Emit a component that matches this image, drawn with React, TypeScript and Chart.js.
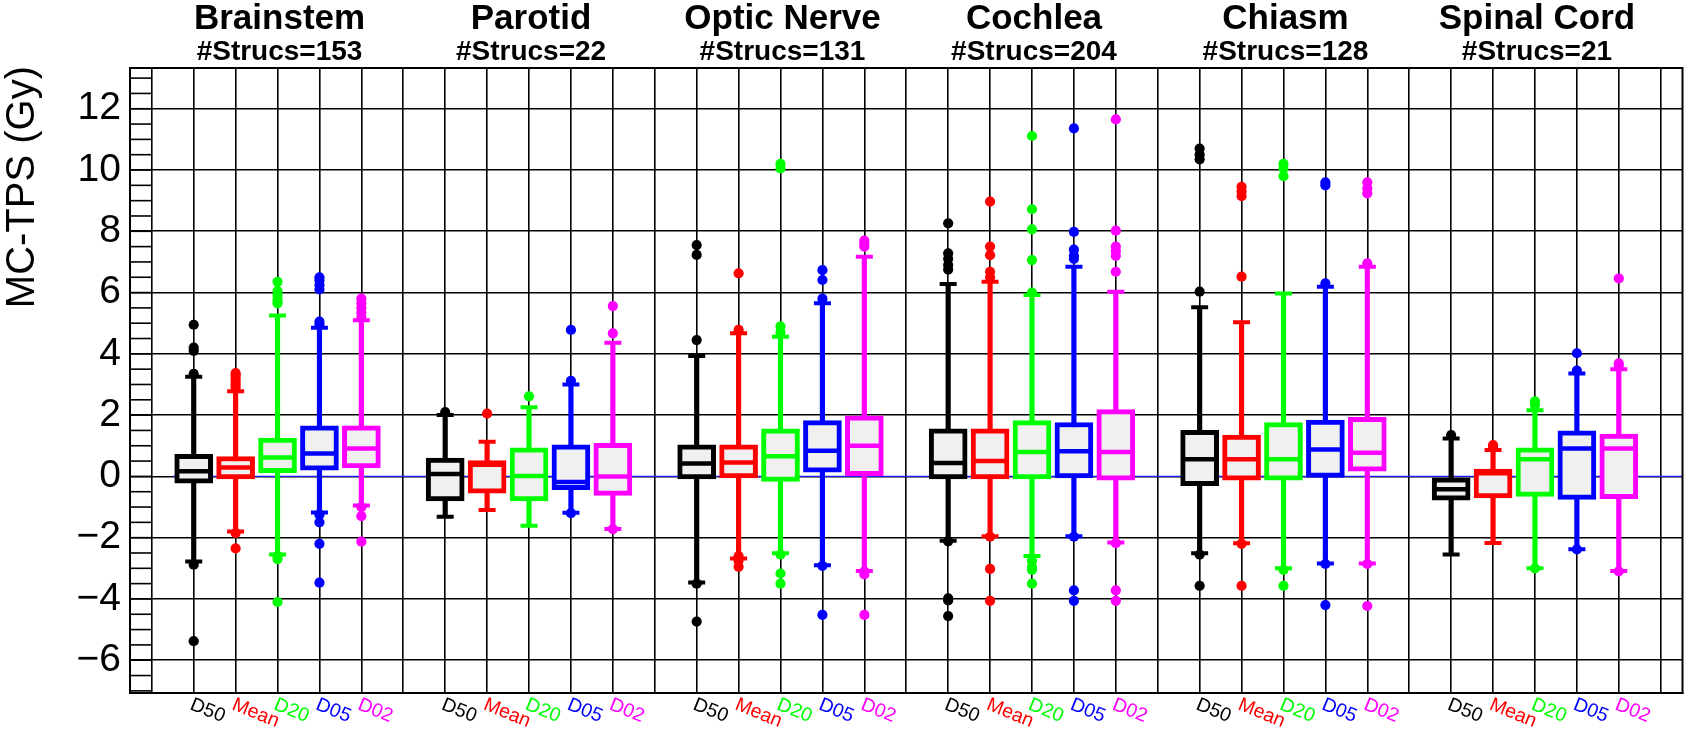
import React, { useEffect, useRef } from 'react';
import { Chart, registerables } from 'chart.js';

Chart.register(...registerables);

const STRUCTURES = ['Brainstem', 'Parotid', 'Optic Nerve', 'Cochlea', 'Chiasm', 'Spinal Cord'];
const N_STRUCS = [153, 22, 131, 204, 128, 21];
const METRICS = ['D50', 'Mean', 'D20', 'D05', 'D02'];
const METRIC_COLORS = ['#000000', '#ff0000', '#00ff00', '#0000ff', '#ff00ff'];
const Y_TICKS = [-6, -4, -2, 0, 2, 4, 6, 8, 10, 12];
const Y_MIN = -7.07;
const Y_MAX = 13.33;

// values indexed [structure][metric]
const Q1 = [
  [-0.22, -0.08, 0.12, 0.2, 0.28],
  [-0.8, -0.55, -0.8, -0.43, -0.62],
  [-0.08, -0.05, -0.16, 0.14, 0.02],
  [-0.08, -0.08, -0.08, -0.05, -0.12],
  [-0.3, -0.12, -0.12, -0.03, 0.17],
  [-0.78, -0.7, -0.65, -0.75, -0.73],
];
const MEDIAN = [
  [0.17, 0.29, 0.62, 0.75, 0.91],
  [0.08, 0.38, 0.01, -0.18, 0.0],
  [0.42, 0.45, 0.66, 0.84, 1.0],
  [0.44, 0.5, 0.8, 0.82, 0.8],
  [0.56, 0.56, 0.56, 0.88, 0.77],
  [-0.42, 0.1, 0.56, 0.91, 0.91],
];
const Q3 = [
  [0.72, 0.65, 1.25, 1.65, 1.65],
  [0.6, 0.52, 0.93, 1.03, 1.08],
  [1.03, 1.03, 1.55, 1.82, 1.98],
  [1.55, 1.55, 1.82, 1.76, 2.18],
  [1.5, 1.35, 1.76, 1.84, 1.93],
  [-0.05, 0.24, 0.93, 1.49, 1.38],
];
const WHISKER_LO = [
  [-2.78, -1.8, -2.55, -1.18, -0.95],
  [-1.32, -1.1, -1.61, -1.19, -1.72],
  [-3.46, -2.68, -2.51, -2.9, -3.09],
  [-2.1, -1.95, -2.6, -1.95, -2.16],
  [-2.51, -2.18, -3.0, -2.84, -2.84],
  [-2.55, -2.17, -3.0, -2.38, -3.09],
];
const WHISKER_HI = [
  [3.25, 2.78, 5.25, 4.85, 5.1],
  [2.0, 1.13, 2.26, 3.0, 4.36],
  [3.93, 4.67, 4.56, 5.65, 7.17],
  [6.28, 6.35, 5.92, 6.84, 6.03],
  [5.52, 5.03, 5.97, 6.19, 6.84],
  [1.24, 0.86, 2.16, 3.36, 3.5],
];
const OUTLIERS = [
  [
    [3.35, 4.1, 4.2, 4.95, -2.88, -5.38],
    [2.9, 3.0, 3.1, 3.2, 3.3, 3.37, -1.85, -2.35],
    [5.65, 5.75, 5.9, 6.05, 6.35, -2.6, -2.7, -4.1],
    [4.95, 5.05, 6.1, 6.25, 6.4, 6.5, -1.25, -1.5, -2.2, -3.47],
    [5.2, 5.35, 5.5, 5.65, 5.8, -1.0, -1.3, -2.13],
  ],
  [
    [2.1],
    [2.05],
    [2.61],
    [3.12, 4.78, -1.2],
    [4.67, 5.56, -1.72],
  ],
  [
    [4.45, 7.23, 7.55, -3.5, -4.74],
    [4.78, 6.63, -2.6, -2.75, -2.95],
    [4.7, 4.9, 10.05, 10.2, -2.55, -3.17, -3.5],
    [5.8, 6.41, 6.73, -2.92, -4.52],
    [7.5, 7.6, 7.7, -3.1, -3.2, -4.52],
  ],
  [
    [6.75, 6.9, 7.1, 7.28, 8.26, -2.12, -3.98, -4.05, -4.56],
    [6.5, 6.68, 7.22, 7.5, 8.97, -1.97, -3.02, -4.06],
    [6.0, 7.06, 8.06, 8.72, 11.11, -2.75, -2.95, -3.05, -3.5],
    [7.1, 7.2, 7.4, 7.98, 11.36, -1.97, -3.72, -4.06],
    [6.68, 7.2, 7.35, 7.5, 8.02, 11.65, -2.18, -3.72, -4.06],
  ],
  [
    [6.03, 10.35, 10.5, 10.7, -2.55, -3.57],
    [6.52, 9.15, 9.3, 9.45, -2.2, -3.57],
    [9.8, 10.05, 10.2, -3.05, -3.57],
    [6.3, 9.5, 9.6, -2.86, -4.2],
    [6.95, 9.24, 9.4, 9.6, -2.86, -4.23],
  ],
  [
    [1.35],
    [0.95, 1.02],
    [2.33, 2.45, -3.0],
    [3.45, 4.02, -2.38],
    [3.6, 3.69, 6.46, -3.1],
  ],
];

const SLOTS_PER_GROUP = METRICS.length + 1;
const N_SLOTS = STRUCTURES.length * SLOTS_PER_GROUP + 1;
const slot = (s: number, m: number) => s * SLOTS_PER_GROUP + 1 + m;

const FONT = '"Liberation Sans", Arial, Helvetica, sans-serif';

const decorPlugin = {
  id: 'decor',
  beforeDatasetsDraw(chart: any) {
    const { ctx, chartArea: a, scales } = chart;
    const x = scales.x;
    const y = scales.y;
    ctx.save();
    ctx.strokeStyle = '#000';
    ctx.lineWidth = 1.6;
    const x0 = x.getPixelForValue(0);
    for (let v = Math.ceil(Y_MIN * 2) / 2; v <= Y_MAX + 1e-9; v += 0.5) {
      const py = y.getPixelForValue(v);
      ctx.beginPath();
      ctx.moveTo(a.left, py);
      ctx.lineTo(x0, py);
      ctx.stroke();
    }
    ctx.strokeStyle = '#1a1aff';
    ctx.lineWidth = 1.4;
    const pz = y.getPixelForValue(0);
    ctx.beginPath();
    ctx.moveTo(x.getPixelForValue(0.5), pz);
    ctx.lineTo(a.right, pz);
    ctx.stroke();
    ctx.restore();
  },
  afterDatasetsDraw(chart: any) {
    const { ctx, chartArea: a } = chart;
    ctx.save();
    ctx.strokeStyle = '#000';
    ctx.lineWidth = 2;
    ctx.strokeRect(a.left, a.top, a.right - a.left, a.bottom - a.top);
    ctx.restore();
  },
  afterDraw(chart: any) {
    const { ctx, scales } = chart;
    const x = scales.x;
    ctx.save();
    ctx.fillStyle = '#000';
    STRUCTURES.forEach((name, s) => {
      const cx = x.getPixelForValue(slot(s, 2)) + 2;
      ctx.textAlign = 'center';
      ctx.textBaseline = 'alphabetic';
      ctx.font = `bold 35px ${FONT}`;
      ctx.fillText(name, cx, 29);
      ctx.font = `bold 28px ${FONT}`;
      ctx.fillText(`#Strucs=${N_STRUCS[s]}`, cx, 60);
    });
    ctx.font = `19.5px ${FONT}`;
    STRUCTURES.forEach((_, s) => {
      METRICS.forEach((label, m) => {
        const px = x.getPixelForValue(slot(s, m));
        ctx.save();
        ctx.translate(px + 1, 695);
        ctx.rotate((22 * Math.PI) / 180);
        ctx.textAlign = 'left';
        ctx.textBaseline = 'top';
        ctx.fillStyle = METRIC_COLORS[m];
        ctx.fillText(label, 0, 0);
        ctx.restore();
      });
    });
    ctx.save();
    ctx.translate(34, 66);
    ctx.rotate(-Math.PI / 2);
    ctx.textAlign = 'right';
    ctx.textBaseline = 'alphabetic';
    ctx.font = `40px ${FONT}`;
    ctx.fillStyle = '#000';
    ctx.fillText('MC-TPS (Gy)', 0, 0);
    ctx.restore();
    ctx.restore();
  },
};

export default function App() {
  const canvasRef = useRef<HTMLCanvasElement | null>(null);

  useEffect(() => {
    document.body.style.margin = '0';
    const canvas = canvasRef.current;
    if (!canvas) return;

    const datasets: any[] = [];
    METRICS.forEach((label, m) => {
      const color = METRIC_COLORS[m];
      datasets.push({
        type: 'bar',
        label: label + ' whisker',
        data: STRUCTURES.map((_, s) => ({ x: slot(s, m), y: [WHISKER_LO[s][m], WHISKER_HI[s][m]] })),
        backgroundColor: color,
        borderWidth: 0,
        barThickness: 4.5,
        grouped: false,
        order: 5,
      });
      datasets.push({
        type: 'bar',
        label: label + ' box',
        data: STRUCTURES.map((_, s) => ({ x: slot(s, m), y: [Q1[s][m], Q3[s][m]] })),
        backgroundColor: '#f0f0f0',
        borderColor: color,
        borderWidth: 5,
        borderSkipped: false,
        barThickness: 38,
        grouped: false,
        order: 4,
      });
      datasets.push({
        type: 'scatter',
        label: label + ' median',
        data: STRUCTURES.map((_, s) => ({ x: slot(s, m), y: MEDIAN[s][m] })),
        pointStyle: 'line',
        pointRadius: 17,
        pointBorderWidth: 4.5,
        pointBorderColor: color,
        order: 3,
      });
      datasets.push({
        type: 'scatter',
        label: label + ' caps',
        data: STRUCTURES.flatMap((_, s) => [
          { x: slot(s, m), y: WHISKER_LO[s][m] },
          { x: slot(s, m), y: WHISKER_HI[s][m] },
        ]),
        pointStyle: 'line',
        pointRadius: 8.5,
        pointBorderWidth: 4,
        pointBorderColor: color,
        order: 2,
      });
      datasets.push({
        type: 'scatter',
        label: label + ' outliers',
        data: STRUCTURES.flatMap((_, s) => OUTLIERS[s][m].map((v) => ({ x: slot(s, m), y: v }))),
        pointStyle: 'circle',
        pointRadius: 5.1,
        pointBackgroundColor: color,
        pointBorderWidth: 0,
        order: 1,
      });
    });

    const chart = new Chart(canvas, {
      type: 'bar',
      data: { datasets },
      options: {
        responsive: false,
        animation: false,
        events: [],
        layout: { padding: { left: 8, top: 68, right: 4, bottom: 38 } },
        plugins: {
          legend: { display: false },
          tooltip: { enabled: false },
        },
        scales: {
          x: {
            type: 'linear',
            offset: false,
            min: -0.52,
            max: N_SLOTS - 1 + 0.52,
            afterBuildTicks: (s: any) => {
              s.ticks = Array.from({ length: N_SLOTS }, (_, i) => ({ value: i }));
            },
            afterFit: (s: any) => {
              s.height = 0;
            },
            ticks: { display: false },
            grid: { color: '#000', lineWidth: 1.6, drawTicks: false, offset: false },
            border: { display: true, color: '#000', width: 2 },
          },
          y: {
            type: 'linear',
            min: Y_MIN,
            max: Y_MAX,
            afterBuildTicks: (s: any) => {
              s.ticks = Y_TICKS.map((v) => ({ value: v }));
            },
            afterFit: (s: any) => {
              s.width = 122;
            },
            ticks: {
              autoSkip: false,
              padding: 9,
              color: '#000',
              font: { family: FONT, size: 39 },
              callback: (v: any) => (Number(v) < 0 ? '\u2212' + Math.abs(Number(v)) : String(v)),
            },
            grid: { color: '#000', lineWidth: 1.6, drawTicks: false },
            border: { display: true, color: '#000', width: 2 },
          },
        },
      } as any,
      plugins: [decorPlugin],
    });

    return () => {
      chart.destroy();
    };
  }, []);

  return (
    <div style={{ width: 1704, height: 731, position: 'relative' }}>
      <canvas ref={canvasRef} width={1704} height={731} style={{ display: 'block' }} />
    </div>
  );
}
